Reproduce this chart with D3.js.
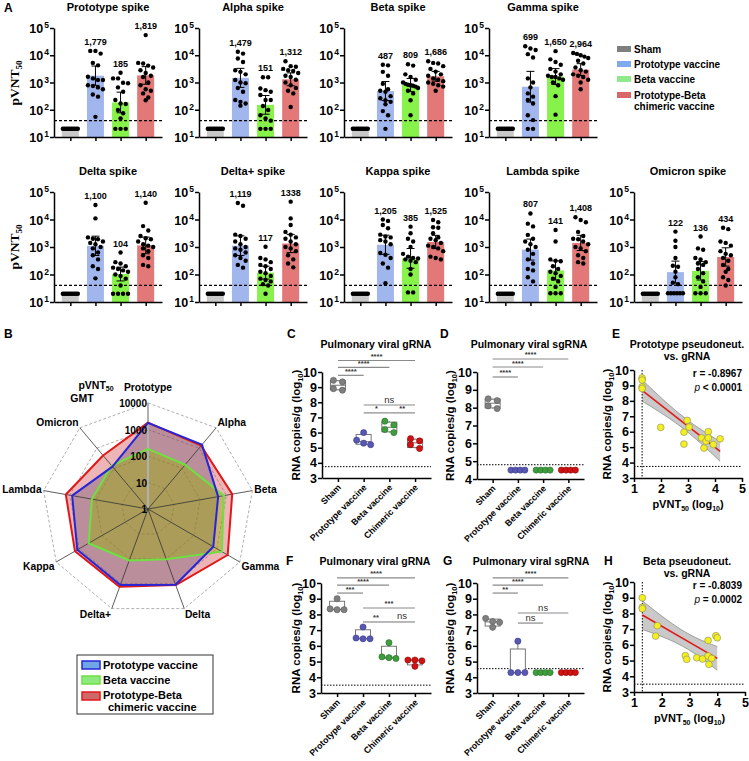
<!DOCTYPE html>
<html><head><meta charset="utf-8">
<script src="https://cdn.jsdelivr.net/npm/d3@7"></script>
<style>body{margin:0;background:#fff}</style>
</head><body>
<script>
// ================= DATA =================
const variants = ["Prototype","Alpha","Beta","Gamma","Delta","Delta+","Kappa","Lambda","Omicron"];
const spikeTitles = ["Prototype spike","Alpha spike","Beta spike","Gamma spike","Delta spike","Delta+ spike","Kappa spike","Lambda spike","Omicron spike"];
const groups = ["Sham","Prototype vaccine","Beta vaccine","Prototype-Beta chimeric vaccine"];
const gmtPrototypeVaccine = [1779,1479,487,699,1100,1119,1205,807,122];
const gmtBetaVaccine      = [185,151,809,1650,104,117,385,141,136];
const gmtChimericVaccine  = [1819,1312,1686,2964,1140,1338,1525,1408,434];
const gmtLabelsPrototype = ["1,779","1,479","487","699","1,100","1,119","1,205","807","122"];
const gmtLabelsBeta      = ["185","151","809","1,650","104","117","385","141","136"];
const gmtLabelsChimeric  = ["1,819","1,312","1,686","2,964","1,140","1338","1,525","1,408","434"];
const shamGMT = 20;
const shamDots = [20,20,20,20,20,20,20,20,20,20];
const pvntLOD = 40;
const pvntTicks = [10,100,1000,10000,100000];
// individual animals, log10 pVNT50, one row per variant
const dotsPrototypeLog10 = [
 [4.16,4.16,4.06,3.72,3.63,3.21,3.15,3.09,3.09,2.9,2.87,2.82,2.75,2.56,2.48,1.74],
 [4.13,4.06,3.88,3.75,3.45,3.39,3.3,3.09,3.0,2.97,2.8,2.66,2.36,2.29,2.23,2.15],
 [3.65,3.63,3.39,3.25,2.95,2.75,2.7,2.66,2.5,2.42,2.35,2.29,2.2,1.95,1.8,1.3],
 [4.33,4.25,4.19,4.04,3.92,3.15,3.0,2.82,2.6,2.48,2.36,2.23,1.8,1.62,1.3,1.3],
 [4.53,4.04,3.35,3.3,3.28,3.2,3.15,3.1,3.0,2.95,2.8,2.7,2.55,2.3,2.2,1.86],
 [4.6,4.5,3.45,3.4,3.3,3.2,3.1,3.0,2.95,2.9,2.8,2.7,2.6,2.5,2.35,2.25],
 [4.0,3.95,3.8,3.68,3.45,3.38,3.35,3.25,3.2,3.1,2.78,2.72,2.6,2.4,2.25,1.68],
 [4.22,3.85,3.75,3.44,3.3,3.2,3.1,3.0,2.9,2.75,2.55,2.4,2.2,2.15,1.9,1.75],
 [3.56,3.23,3.0,2.6,2.32,2.28,2.1,1.9,1.7,1.65,1.32,1.32,1.32,1.32,1.32,1.32]
];
const dotsBetaLog10 = [
 [3.36,3.15,3.15,2.99,2.97,2.82,2.66,2.36,2.23,2.21,1.99,1.87,1.68,1.3,1.3,1.3],
 [3.19,3.19,2.78,2.72,2.66,2.54,2.36,2.36,2.14,1.99,1.8,1.68,1.6,1.3,1.3,1.3],
 [3.67,3.62,3.3,3.2,3.1,3.0,2.95,2.92,2.9,2.88,2.85,2.8,2.7,2.6,2.35,1.8],
 [4.15,3.85,3.75,3.65,3.5,3.4,3.3,3.25,3.2,3.2,3.15,3.1,3.0,2.9,2.5,1.82],
 [2.8,2.45,2.4,2.3,2.25,2.2,2.15,2.1,2.0,1.95,1.85,1.6,1.3,1.3,1.3,1.3],
 [3.01,2.6,2.55,2.45,2.35,2.3,2.2,2.1,2.05,1.95,1.85,1.8,1.75,1.65,1.6,1.3],
 [3.74,3.5,3.3,3.2,3.0,2.75,2.65,2.6,2.58,2.55,2.5,2.45,2.2,2.0,1.35,1.35],
 [3.62,3.2,2.55,2.5,2.48,2.3,2.2,2.1,2.05,1.95,1.85,1.75,1.55,1.32,1.32,1.32],
 [3.38,2.95,2.9,2.6,2.55,2.45,2.4,2.35,2.2,2.05,1.9,1.75,1.55,1.32,1.32,1.32]
];
const dotsChimericLog10 = [
 [4.74,3.72,3.7,3.62,3.55,3.45,3.35,3.25,3.2,3.0,2.9,2.75,2.7,2.6,2.45,2.35],
 [3.78,3.6,3.58,3.5,3.45,3.42,3.35,3.25,3.2,3.1,3.0,2.9,2.8,2.7,2.6,2.1],
 [3.78,3.72,3.7,3.6,3.5,3.4,3.3,3.25,3.15,3.1,3.05,3.0,2.95,2.9,2.85,2.7],
 [4.08,4.05,4.0,3.95,3.9,3.8,3.7,3.55,3.45,3.4,3.3,3.25,3.2,3.1,3.0,2.75],
 [4.61,3.76,3.6,3.4,3.32,3.28,3.2,3.1,3.05,3.0,2.95,2.85,2.7,2.6,2.35,2.3],
 [4.65,4.04,3.8,3.55,3.45,3.35,3.3,3.2,3.1,3.0,2.95,2.85,2.7,2.55,2.4,2.26],
 [3.98,3.9,3.72,3.7,3.5,3.35,3.3,3.25,3.15,3.05,3.0,2.95,2.85,2.65,2.6,2.55],
 [4.08,3.98,3.9,3.55,3.4,3.3,3.28,3.2,3.1,3.0,2.95,2.85,2.7,2.6,2.45,2.4],
 [3.7,3.65,3.2,3.15,3.05,2.85,2.75,2.7,2.6,2.5,2.35,2.2,2.1,1.9,1.8,1.6]
];
// radar
const radarRings = [10,100,1000,10000];
const radarTickLabels = ["1","10","100","1000","10000"];
const radarSeries = ["Prototype vaccine","Beta vaccine","Prototype-Beta chimeric vaccine"];
// viral RNA (log10 copies/g)
const boxCats = ["Sham","Prototype vaccine","Beta vaccine","Chimeric vaccine"];
const gRNA1 = [[8.8,8.9,9.35,9.45],[5.2,5.3,5.5,6.0],[6.0,6.2,6.5,6.75],[4.95,5.2,5.45,5.6]];
const sgRNA1 = [[7.95,8.1,8.4,8.5],[4.5,4.5,4.5,4.5],[4.5,4.5,4.5,4.5],[4.5,4.5,4.5,4.5]];
const gRNA2 = [[8.3,8.3,8.35,9.0],[6.45,6.45,6.5,7.2],[5.2,5.25,5.3,6.2],[4.7,5.05,5.1,5.1]];
const sgRNA2 = [[7.18,7.5,7.55,7.75],[4.3,4.3,4.3,6.3],[4.3,4.3,4.3,4.3],[4.3,4.3,4.3,4.3]];
const lodC = 3.75, lodD = 4.8, lodF = 3.5, lodG = 4.55;
// significance: [fromIndex, toIndex, label, y position (log10 units)]
const sigC = [[0,3,"****",10.76],[0,2,"****",10.3],[0,1,"****",9.78],[1,3,"ns",7.82],[1,2,"*",7.3],[2,3,"**",7.3]];
const sigD = [[0,3,"****",10.73],[0,2,"****",10.28],[0,1,"****",9.72]];
const sigF = [[0,3,"****",10.32],[0,2,"****",9.87],[0,1,"***",9.36],[1,3,"***",8.41],[1,2,"**",7.52],[2,3,"ns",7.52]];
const sigG = [[0,3,"****",10.32],[0,2,"****",9.87],[0,1,"**",9.36],[1,3,"ns",8.09],[1,2,"ns",7.45]];
// correlations: x = pVNT50 (log10), y = RNA copies/g (log10)
const protoPseudoX = [1.3,1.3,1.3,1.3,1.99,2.85,2.85,2.97,3.04,3.5,3.59,3.67,3.75,3.75,3.94,4.19];
const protoPseudoY = [9.48,9.35,8.9,8.8,6.28,5.97,5.2,6.73,6.3,5.6,4.94,5.39,6.0,5.6,5.17,5.54];
const betaPseudoX = [1.3,1.3,1.3,1.78,1.84,2.85,2.9,3.26,3.47,3.67,3.67,3.7,3.8,3.95,4.0];
const betaPseudoY = [9.0,8.39,8.3,6.56,7.22,5.31,5.08,5.18,5.1,6.28,5.29,4.76,5.14,6.58,6.45];
const corrE = {r:"r = -0.8967", p:" < 0.0001"};
const corrH = {r:"r = -0.8039", p:" = 0.0002"};
const pseudoLOD = 1.3;

// ================= DRAW =================
const FONT = "'Liberation Sans', Arial, Helvetica, sans-serif";
const svg = d3.select("body").append("svg").attr("width",749).attr("height",761)
  .attr("font-family",FONT);
svg.append("rect").attr("width",749).attr("height",761).attr("fill","#fff");

function txt(x,y,s,o={}){
  const t = svg.append("text").attr("x",x).attr("y",y).text(s)
    .attr("font-size",o.size||10).attr("font-weight",o.weight||"bold")
    .attr("text-anchor",o.anchor||"start").attr("fill",o.fill||"#000");
  return t;
}
function swarmOffsets(py, th, s, maxHalf){
  const idx = d3.range(py.length).sort((a,b)=>py[a]-py[b]);
  const off = new Array(py.length).fill(0);
  let i=0;
  while(i<idx.length){
    let j=i;
    while(j+1<idx.length && py[idx[j+1]]-py[idx[i]]<th) j++;
    const m=j-i+1; let sp=s;
    if(m>1 && (m-1)*sp/2>maxHalf) sp=2*maxHalf/(m-1);
    for(let k=0;k<m;k++) off[idx[i+k]]=(k-(m-1)/2)*sp;
    i=j+1;
  }
  return off;
}
function styleAxis(ag){
  ag.select(".domain").attr("stroke","#000").attr("stroke-width",1.5);
  ag.selectAll(".tick line").attr("stroke","#000").attr("stroke-width",1.5);
}

// ---------- Panel A ----------
const barFill = ["#c9c9c9","#a2b6ee","#86f24a","#e27878"];
function barPanel(vi, x0, yTop, yBot){
  const w = 108;
  const y = d3.scaleLog().domain([10,1e5]).range([yBot,yTop]);
  const x = d3.scalePoint().domain(groups).range([x0,x0+w]).padding(0.65);
  const bw = 17;
  const g = svg.append("g");
  const gmts = [shamGMT, gmtPrototypeVaccine[vi], gmtBetaVaccine[vi], gmtChimericVaccine[vi]];
  const dots = [shamDots, dotsPrototypeLog10[vi].map(v=>10**v), dotsBetaLog10[vi].map(v=>10**v), dotsChimericLog10[vi].map(v=>10**v)];
  const labels = [null, gmtLabelsPrototype[vi], gmtLabelsBeta[vi], gmtLabelsChimeric[vi]];
  groups.forEach((grp,gi)=>{
    g.append("rect").attr("x",x(grp)-bw/2).attr("y",y(gmts[gi]))
      .attr("width",bw).attr("height",yBot-y(gmts[gi])).attr("fill",barFill[gi]);
  });
  g.append("line").attr("x1",x0).attr("x2",x0+w).attr("y1",y(pvntLOD)).attr("y2",y(pvntLOD))
    .attr("stroke","#000").attr("stroke-width",1.2).attr("stroke-dasharray","3,2");
  groups.forEach((grp,gi)=>{
    const py = dots[gi].map(v=>y(v));
    const off = swarmOffsets(py, 5.5, 5.2, 7.5);
    g.selectAll(null).data(dots[gi]).enter().append("circle")
      .attr("cx",(d,i)=>x(grp)+off[i]).attr("cy",d=>y(d)).attr("r",2.2).attr("fill","#000");
    if(gi>0){
      const logs = dots[gi].map(Math.log10);
      const half = 2.131*d3.deviation(logs)/Math.sqrt(logs.length);
      const c = Math.log10(gmts[gi]);
      const lo = 10**(c-half), hi = 10**(c+half);
      const cx = x(grp);
      g.append("line").attr("x1",cx).attr("x2",cx).attr("y1",y(lo)).attr("y2",y(hi)).attr("stroke","#000").attr("stroke-width",1);
      [lo,hi].forEach(v=>g.append("line").attr("x1",cx-4).attr("x2",cx+4).attr("y1",y(v)).attr("y2",y(v)).attr("stroke","#000").attr("stroke-width",1));
      const top = Math.min(y(d3.max(dots[gi])), y(hi));
      g.append("text").attr("x",cx).attr("y",top-6).attr("text-anchor","middle")
        .attr("font-size",9).attr("font-weight","bold").text(labels[gi]);
    }
  });
  const ya = g.append("g").attr("transform",`translate(${x0},0)`)
    .call(d3.axisLeft(y).tickValues(pvntTicks).tickSize(4).tickSizeOuter(0).tickFormat(""));
  styleAxis(ya);
  ya.selectAll(".tick").each(function(d){
    const t = d3.select(this).append("text").attr("x",-5).attr("y",4.5).attr("text-anchor","end")
      .attr("font-size",12.5).attr("font-weight","bold").attr("fill","#000");
    t.append("tspan").text("10");
    t.append("tspan").attr("font-size",8.5).attr("dx",1).attr("dy",-5).text(Math.round(Math.log10(d)));
  });
  const xa = g.append("g").attr("transform",`translate(0,${yBot})`)
    .call(d3.axisBottom(x).tickSize(4).tickSizeOuter(0).tickFormat(""));
  styleAxis(xa);
  g.append("text").attr("x",x0+54).attr("y",yTop-17).attr("text-anchor","middle")
    .attr("font-size",11).attr("font-weight","bold").text(spikeTitles[vi]);
}
[0,1,2,3].forEach(i=>barPanel(i, 54+i*145, 28, 137));
[4,5,6,7,8].forEach((v,i)=>barPanel(v, 54+i*145, 192, 302));
// pVNT50 labels
[83,247].forEach(cy=>{
  const t = svg.append("text").attr("transform",`translate(19,${cy}) rotate(-90)`)
    .attr("text-anchor","middle").attr("font-family","'Liberation Serif','Times New Roman',serif")
    .attr("font-size",13.5).attr("font-weight","bold");
  t.append("tspan").text("pVNT");
  t.append("tspan").attr("font-size",9).attr("dy",3).text("50");
});
// legend A
const legFill = ["#7f7f7f","#7eaaee","#8eea8a","#d86868"];
const legY = [49,64,79,95];
groups.forEach((grp,gi)=>{
  svg.append("rect").attr("x",617).attr("y",legY[gi]-3).attr("width",14).attr("height",6).attr("fill",legFill[gi]);
  if(gi<3) txt(634,legY[gi]+3.5,grp,{size:10});
  else { txt(634,legY[gi]+3.5,"Prototype-Beta",{size:10}); txt(634,legY[gi]+15,"chimeric vaccine",{size:10}); }
});
txt(4,12,"A",{size:12});

// ---------- Panel B radar ----------
txt(4,338,"B",{size:12});
const rc = {x:148, y:509};
const rS = d3.scaleLog().domain([1,1e4]).range([0,106]);
const ang = i => i*2*Math.PI/variants.length;
const pt = (i,r) => [rc.x + r*Math.sin(ang(i)), rc.y - r*Math.cos(ang(i))];
const rg = svg.append("g");
radarRings.forEach(v=>{
  rg.append("polygon").attr("points",variants.map((_,i)=>pt(i,rS(v)).join(",")).join(" "))
    .attr("fill","none").attr("stroke","#9a9a9a").attr("stroke-width",0.8).attr("stroke-dasharray","3,2");
});
const radarVals = [gmtPrototypeVaccine, gmtBetaVaccine, gmtChimericVaccine];
const radarFill = ["rgba(70,55,95,0.30)","rgba(150,175,0,0.42)","rgba(210,70,70,0.40)"];
const radarStroke = ["#2626d8","#6ee040","#e01818"];
// fills: chimeric, prototype, beta
[2,0,1].forEach(si=>{
  rg.append("polygon").attr("points",radarVals[si].map((v,i)=>pt(i,rS(v)).join(",")).join(" "))
    .attr("fill",radarFill[si]).attr("stroke","none");
});
variants.forEach((v,i)=>{
  const p = pt(i,106);
  rg.append("line").attr("x1",rc.x).attr("y1",rc.y).attr("x2",p[0]).attr("y2",p[1])
    .attr("stroke", i===0?"#b0b0b0":"#333").attr("stroke-width", i===0?2:0.8);
});
[2,1,0].forEach(si=>{
  rg.append("polygon").attr("points",radarVals[si].map((v,i)=>pt(i,rS(v)).join(",")).join(" "))
    .attr("fill","none").attr("stroke",radarStroke[si]).attr("stroke-width",2).attr("stroke-linejoin","round");
});
[1,10,100,1000,10000].forEach((v,k)=>{
  rg.append("text").attr("x",rc.x-1).attr("y",rc.y-rS(v)+4).attr("text-anchor","end")
    .attr("font-size",10).attr("font-weight","bold").text(radarTickLabels[k]);
});
variants.forEach((v,i)=>{
  const a = ang(i), s = Math.sin(a), c = Math.cos(a);
  const p = pt(i, Math.abs(s)>0.3 ? 108 : 113);
  let dy = 4 - 6*c;
  if(c>0.9) dy = -5;
  if(c<-0.9) dy = 8;
  rg.append("text").attr("x",p[0]).attr("y",p[1]+dy)
    .attr("text-anchor", s>0.3?"start":(s<-0.3?"end":"middle"))
    .attr("font-size",10.3).attr("font-weight","bold").text(v);
});
{
  const t = svg.append("text").attr("x",96).attr("y",389).attr("text-anchor","middle").attr("font-size",10.5).attr("font-weight","bold");
  t.append("tspan").text("pVNT"); t.append("tspan").attr("font-size",7).attr("dy",2).text("50");
  txt(82,402,"GMT",{size:10.5,anchor:"middle"});
}
// legend B
svg.append("rect").attr("x",77).attr("y",655).attr("width",136).attr("height",59)
  .attr("fill","#fff").attr("stroke","#333").attr("stroke-width",1);
const legBFill = ["#6fa6e6","#8eea7e","#d06868"];
[665,680,696].forEach((yy,si)=>{
  svg.append("rect").attr("x",82).attr("y",yy-4).attr("width",18).attr("height",8)
    .attr("fill",legBFill[si]).attr("stroke",radarStroke[si]).attr("stroke-width",1.5);
});
txt(103,669,"Prototype vaccine",{size:11});
txt(103,684,"Beta vaccine",{size:11});
txt(103,699,"Prototype-Beta",{size:11});
txt(108,711,"chimeric vaccine",{size:11});

// ---------- Box panels ----------
const boxColors = ["#7f7f7f","#5858b4","#3e9e3e","#d01212"];
const boxStroke = ["#555","#33337a","#256025","#7a0000"];
function prismQ(s,p){
  const n=s.length, h=(n+1)*p;
  if(h<=1) return s[0]; if(h>=n) return s[n-1];
  const lo=Math.floor(h); return s[lo-1]+(h-lo)*(s[lo]-s[lo-1]);
}
function yLabel(x,cy){
  const t = svg.append("text").attr("transform",`translate(${x},${cy}) rotate(-90)`)
    .attr("text-anchor","middle").attr("font-size",11.5).attr("font-weight","bold");
  t.append("tspan").text("RNA copies/g (log");
  t.append("tspan").attr("font-size",7.5).attr("dy",3).text("10");
  t.append("tspan").attr("dy",-3).text(")");
}
function boxPanel(o){
  const y = d3.scaleLinear().domain(o.yDomain).range([o.yBot,o.yTop]);
  const x = d3.scalePoint().domain(boxCats).range([o.x0,o.x1]).padding(0.62);
  const g = svg.append("g");
  g.append("line").attr("x1",o.x0).attr("x2",o.x1).attr("y1",y(o.lod)).attr("y2",y(o.lod))
    .attr("stroke","#000").attr("stroke-width",1).attr("stroke-dasharray","1.5,1.5");
  o.data.forEach((arr,gi)=>{
    const s = arr.slice().sort(d3.ascending);
    const q1=prismQ(s,.25), md=prismQ(s,.5), q3=prismQ(s,.75);
    const cx = x(boxCats[gi]), hw = 7.5;
    g.append("line").attr("x1",cx).attr("x2",cx).attr("y1",y(s[0])).attr("y2",y(s[s.length-1])).attr("stroke","#777").attr("stroke-width",1);
    g.append("rect").attr("x",cx-hw).attr("y",y(q3)).attr("width",2*hw).attr("height",Math.max(0,y(q1)-y(q3)))
      .attr("fill","#fff").attr("stroke","#777").attr("stroke-width",1);
    g.append("line").attr("x1",cx-hw).attr("x2",cx+hw).attr("y1",y(md)).attr("y2",y(md)).attr("stroke","#777").attr("stroke-width",1);
  });
  o.data.forEach((arr,gi)=>{
    const py = arr.map(v=>y(v));
    const off = swarmOffsets(py, 5.5, 9, 7);
    g.selectAll(null).data(arr).enter().append("circle")
      .attr("cx",(d,i)=>x(boxCats[gi])+off[i]).attr("cy",d=>y(d)).attr("r",3.1)
      .attr("fill",boxColors[gi]).attr("stroke",boxStroke[gi]).attr("stroke-width",0.5);
  });
  o.sig.forEach(([a,b,lab,v])=>{
    g.append("line").attr("x1",x(boxCats[a])).attr("x2",x(boxCats[b])).attr("y1",y(v)).attr("y2",y(v))
      .attr("stroke","#8a8a8a").attr("stroke-width",1.2);
    const isNs = lab==="ns";
    g.append("text").attr("x",(x(boxCats[a])+x(boxCats[b]))/2).attr("y",y(v)-(isNs?2.5:1.5))
      .attr("text-anchor","middle").attr("font-size",isNs?9.5:7.5).attr("font-weight",isNs?"normal":"bold")
      .attr("fill","#333").text(lab);
  });
  const ya = g.append("g").attr("transform",`translate(${o.x0},0)`)
    .call(d3.axisLeft(y).ticks(o.yDomain[1]-o.yDomain[0]).tickSize(4).tickSizeOuter(0).tickFormat(d3.format("d")));
  styleAxis(ya);
  ya.selectAll(".tick text").attr("font-size",12.5).attr("font-weight","bold").attr("fill","#000").attr("font-family",FONT).attr("x",-5);
  const xa = g.append("g").attr("transform",`translate(0,${o.yBot})`)
    .call(d3.axisBottom(x).tickSize(4).tickSizeOuter(0));
  styleAxis(xa);
  xa.selectAll(".tick text").attr("font-size",8.8).attr("font-weight","bold").attr("fill","#000").attr("font-family",FONT)
    .attr("text-anchor","end").attr("y",0).attr("dy",0)
    .attr("transform","translate(3,10) rotate(-45)");
  yLabel(o.labelX,(o.yTop+o.yBot)/2);
}
boxPanel({x0:322,x1:431,yTop:372,yBot:478,yDomain:[3,10],data:gRNA1,lod:lodC,sig:sigC,labelX:300});
boxPanel({x0:477,x1:584,yTop:372,yBot:479,yDomain:[4,10],data:sgRNA1,lod:lodD,sig:sigD,labelX:454});
boxPanel({x0:321,x1:431,yTop:583,yBot:693,yDomain:[3,10],data:gRNA2,lod:lodF,sig:sigF,labelX:300});
boxPanel({x0:477,x1:584,yTop:583,yBot:693,yDomain:[3,10],data:sgRNA2,lod:lodG,sig:sigG,labelX:454});

// ---------- scatter panels ----------
function scatterPanel(o){
  const x = d3.scaleLinear().domain([1,5]).range([o.x0,o.x1]);
  const y = d3.scaleLinear().domain([3,10]).range([o.yBot,o.yTop]);
  const g = svg.append("g");
  const xs=o.xs, ys=o.ys, n=xs.length;
  const xb=d3.mean(xs), yb=d3.mean(ys);
  const sxx=d3.sum(xs,v=>(v-xb)**2);
  const sxy=d3.sum(xs.map((v,i)=>(v-xb)*(ys[i]-yb)));
  const b=sxy/sxx, a=yb-b*xb;
  const se=Math.sqrt(d3.sum(xs.map((v,i)=>(ys[i]-a-b*v)**2))/(n-2));
  const tv = {13:2.160,14:2.145}[n-2] || 2.15;
  const xmin=d3.min(xs), xmax=d3.max(xs);
  const grid = d3.range(0,41).map(k=>xmin+(xmax-xmin)*k/40);
  const band = grid.map(v=>{
    const h = tv*se*Math.sqrt(1/n+(v-xb)**2/sxx);
    return {x:v, lo:a+b*v-h, hi:a+b*v+h};
  });
  g.append("path").datum(band).attr("d",d3.area().x(d=>x(d.x)).y0(d=>y(d.lo)).y1(d=>y(d.hi)))
    .attr("fill","#bcbcbc").attr("fill-opacity",0.8);
  g.append("path").datum(band).attr("d",d3.line().x(d=>x(d.x)).y(d=>y(d.hi))).attr("fill","none").attr("stroke","#8a8a8a").attr("stroke-width",0.8);
  g.append("path").datum(band).attr("d",d3.line().x(d=>x(d.x)).y(d=>y(d.lo))).attr("fill","none").attr("stroke","#8a8a8a").attr("stroke-width",0.8);
  g.append("line").attr("x1",x(pseudoLOD)).attr("x2",x(pseudoLOD)).attr("y1",o.yTop).attr("y2",o.yBot)
    .attr("stroke","#000").attr("stroke-width",1).attr("stroke-dasharray","1.5,1.5");
  g.append("line").attr("x1",o.x0).attr("x2",o.x1).attr("y1",y(o.lod)).attr("y2",y(o.lod))
    .attr("stroke","#000").attr("stroke-width",1).attr("stroke-dasharray","1.5,1.5");
  g.append("line").attr("x1",x(xmin)).attr("x2",x(xmax)).attr("y1",y(a+b*xmin)).attr("y2",y(a+b*xmax))
    .attr("stroke","#e01b1b").attr("stroke-width",1.6);
  g.selectAll(null).data(xs).enter().append("circle").attr("cx",d=>x(d)).attr("cy",(d,i)=>y(ys[i]))
    .attr("r",3.4).attr("fill","#f4ef1e").attr("stroke","#8a8a6a").attr("stroke-width",0.6);
  const ya = g.append("g").attr("transform",`translate(${o.x0},0)`)
    .call(d3.axisLeft(y).ticks(7).tickSize(4).tickSizeOuter(0).tickFormat(d3.format("d")));
  styleAxis(ya);
  ya.selectAll(".tick text").attr("font-size",12.5).attr("font-weight","bold").attr("fill","#000").attr("font-family",FONT).attr("x",-5);
  const xa = g.append("g").attr("transform",`translate(0,${o.yBot})`)
    .call(d3.axisBottom(x).ticks(4).tickSize(4).tickSizeOuter(0).tickFormat(d3.format("d")));
  styleAxis(xa);
  xa.selectAll(".tick text").attr("font-size",12.5).attr("font-weight","bold").attr("fill","#000").attr("font-family",FONT).attr("y",6);
  const xl = svg.append("text").attr("x",(o.x0+o.x1)/2).attr("y",o.yBot+30).attr("text-anchor","middle")
    .attr("font-size",11).attr("font-weight","bold");
  xl.append("tspan").text("pVNT"); xl.append("tspan").attr("font-size",7).attr("dy",3).text("50");
  xl.append("tspan").attr("dy",-3).text(" (log"); xl.append("tspan").attr("font-size",7).attr("dy",3).text("10");
  xl.append("tspan").attr("dy",-3).text(")");
  txt(742,o.yTop+7,o.corr.r,{size:10,anchor:"end"});
  const pt2 = svg.append("text").attr("x",742).attr("y",o.yTop+21).attr("text-anchor","end").attr("font-size",10).attr("font-weight","bold");
  pt2.append("tspan").attr("font-style","italic").attr("font-weight","normal").text("p");
  pt2.append("tspan").text(o.corr.p);
  yLabel(o.labelX,(o.yTop+o.yBot)/2);
}
scatterPanel({x0:634,x1:742,yTop:370,yBot:478,xs:protoPseudoX,ys:protoPseudoY,lod:3.75,corr:corrE,labelX:611});
scatterPanel({x0:634,x1:745,yTop:582,yBot:692,xs:betaPseudoX,ys:betaPseudoY,lod:3.5,corr:corrH,labelX:611});

// ---------- titles & letters ----------
txt(287,338,"C",{size:12}); txt(376,348,"Pulmonary viral gRNA",{size:10.5,anchor:"middle"});
txt(440,338,"D",{size:12}); txt(529,348,"Pulmonary viral sgRNA",{size:10.5,anchor:"middle"});
txt(612,338,"E",{size:12}); txt(687,348,"Prototype pseudoneut.",{size:10.5,anchor:"middle"});
txt(687,360,"vs. gRNA",{size:10.5,anchor:"middle"});
txt(286,565,"F",{size:12}); txt(375,565,"Pulmonary viral gRNA",{size:10.5,anchor:"middle"});
txt(443,565,"G",{size:12}); txt(531,565,"Pulmonary viral sgRNA",{size:10.5,anchor:"middle"});
txt(604,565,"H",{size:12}); txt(687,565,"Beta pseudoneut.",{size:10.5,anchor:"middle"});
txt(687,577,"vs. gRNA",{size:10.5,anchor:"middle"});
</script>
</body></html>
